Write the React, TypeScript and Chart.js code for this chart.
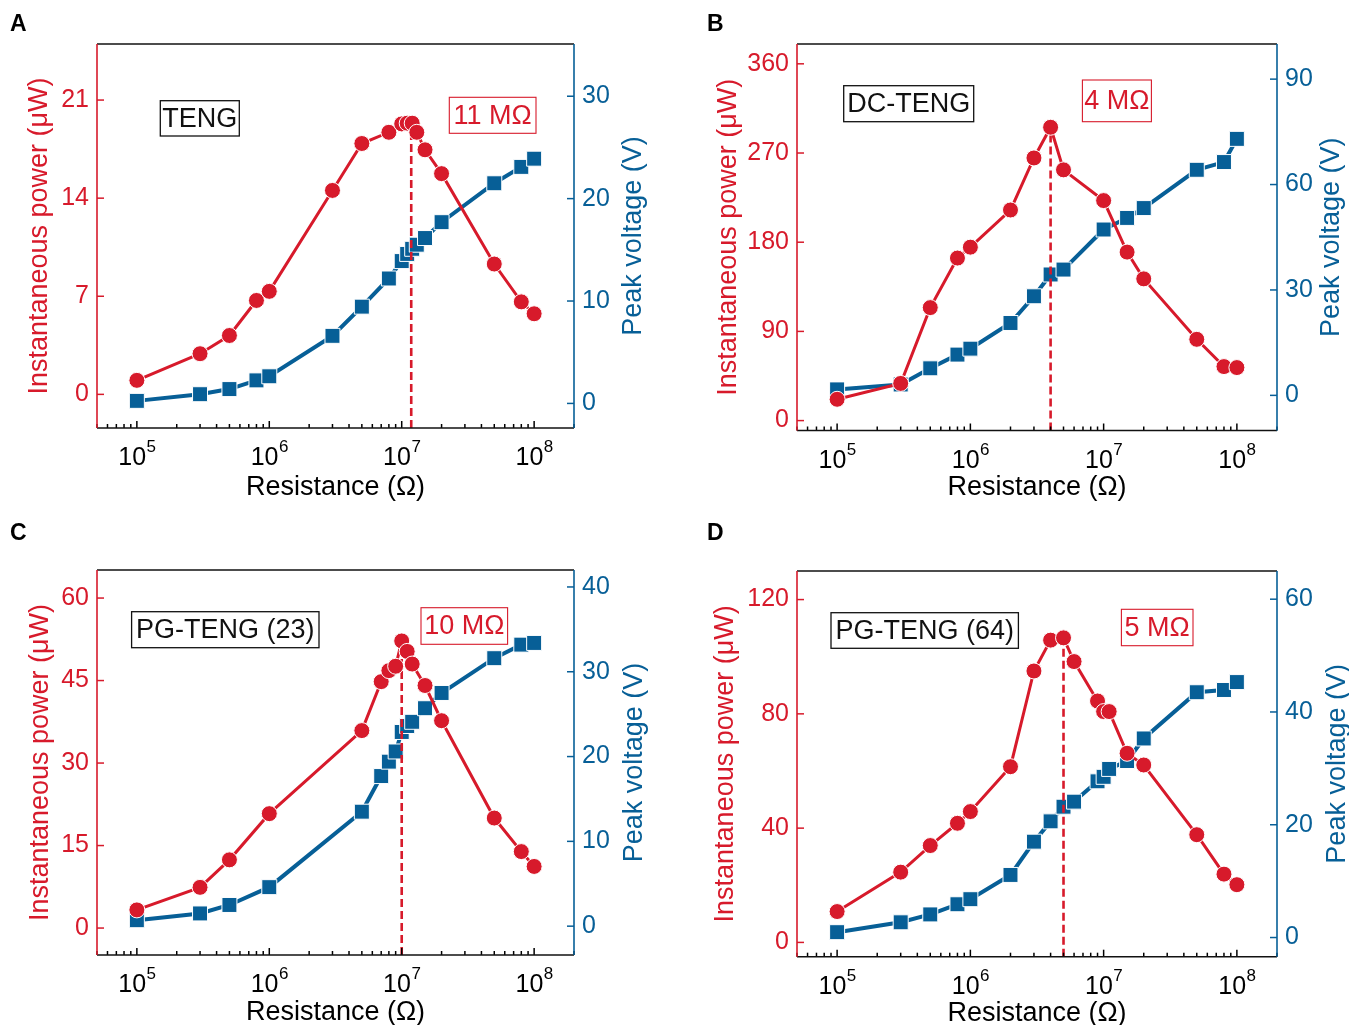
import React, { useEffect, useRef } from 'react';
import { Chart, registerables } from 'chart.js';

Chart.register(...registerables);

const RED = '#d71a2b';
const BLUE = '#075f97';
const FONT = "'Liberation Sans', Arial, Helvetica, sans-serif";

// ---------------- data ----------------
const resistanceA = [1e5, 3e5, 5e5, 8e5, 1e6, 3e6, 5e6, 8e6, 1e7, 1.1e7, 1.2e7, 1.3e7, 1.5e7, 2e7, 5e7, 8e7, 1e8];
const powerA = [1.0, 2.9, 4.2, 6.7, 7.35, 14.55, 17.9, 18.7, 19.3, 19.35, 19.35, 18.7, 17.45, 15.75, 9.3, 6.6, 5.75];
const voltageA = [0.25, 0.9, 1.4, 2.25, 2.65, 6.6, 9.45, 12.2, 13.9, 14.6, 15.1, 15.5, 16.15, 17.7, 21.5, 23.1, 23.9];
const optimumA = 1.18e7;

const resistanceB = [1e5, 3e5, 5e5, 8e5, 1e6, 2e6, 3e6, 4e6, 5e6, 1e7, 1.5e7, 2e7, 5e7, 8e7, 1e8];
const powerB = [21.5, 37.5, 114, 164, 175, 212.5, 265, 296, 253, 222, 170, 143, 82, 54.5, 53.5];
const voltageB = [1.7, 3.1, 7.7, 11.6, 13.3, 20.6, 28.2, 34.4, 35.8, 47.2, 50.5, 53.3, 64.2, 66.4, 73];
const optimumB = 4e6;

const resistanceC = [1e5, 3e5, 5e5, 1e6, 5e6, 7e6, 8e6, 9e6, 1e7, 1.1e7, 1.2e7, 1.5e7, 2e7, 5e7, 8e7, 1e8];
const powerC = [3.3, 7.4, 12.4, 20.8, 35.9, 44.8, 46.8, 47.6, 52.2, 50.3, 48.0, 44.1, 37.7, 20.0, 13.9, 11.2];
const voltageC = [0.7, 1.5, 2.5, 4.6, 13.5, 17.7, 19.4, 20.6, 22.9, 23.6, 24.1, 25.7, 27.5, 31.6, 33.2, 33.4];
const optimumC = 1e7;

const resistanceD = [1e5, 3e5, 5e5, 8e5, 1e6, 2e6, 3e6, 4e6, 5e6, 6e6, 9e6, 1e7, 1.1e7, 1.5e7, 2e7, 5e7, 8e7, 1e8];
const powerD = [10.8, 24.6, 33.9, 41.7, 45.8, 61.5, 95.0, 105.8, 106.6, 98.3, 84.5, 80.8, 80.8, 66.2, 62.1, 37.7, 23.9, 20.2];
const voltageD = [0.95, 2.7, 4.1, 5.9, 6.8, 11.1, 17.0, 20.6, 23.2, 24.1, 27.7, 28.5, 29.9, 31.3, 35.3, 43.5, 43.9, 45.3];
const optimumD = 5e6;

// ---------------- axes / ticks / labels ----------------
const xMin = 5e4;
const xMax = 2e8;
const xMajorTicks = [1e5, 1e6, 1e7, 1e8];
const xTickBase = '10';
const xTickExponents = ['5', '6', '7', '8'];

const leftTicksA = [0, 7, 14, 21];
const rightTicksA = [0, 10, 20, 30];
const leftTicksB = [0, 90, 180, 270, 360];
const rightTicksB = [0, 30, 60, 90];
const leftTicksC = [0, 15, 30, 45, 60];
const rightTicksC = [0, 10, 20, 30, 40];
const leftTicksD = [0, 40, 80, 120];
const rightTicksD = [0, 20, 40, 60];

const leftRangeA = [-2.4, 25];
const rightRangeA = [-2.4, 35.1];
const leftRangeB = [-10, 380];
const rightRangeB = [-10, 100];
const leftRangeC = [-4.9, 65.1];
const rightRangeC = [-3.4, 42];
const leftRangeD = [-5, 130];
const rightRangeD = [-3.4, 65];

const sampleLabels = ['TENG', 'DC-TENG', 'PG-TENG (23)', 'PG-TENG (64)'];
const optimumLabels = ['11 MΩ', '4 MΩ', '10 MΩ', '5 MΩ'];
const panelLetters = ['A', 'B', 'C', 'D'];
const xTitle = 'Resistance (Ω)';
const yLeftTitle = 'Instantaneous power (μW)';
const yRightTitle = 'Peak voltage (V)';

// minor tick positions of the log axis (1..9 x 10^n inside the range)
const xAllTicks: number[] = [];
for (let e = 4; e <= 8; e++) {
  for (let m = 1; m <= 9; m++) {
    const v = m * Math.pow(10, e);
    if (v >= xMin && v <= xMax) xAllTicks.push(v);
  }
}

type Box = [number, number, number, number];
interface PanelCfg {
  idx: number;
  res: number[];
  power: number[];
  voltage: number[];
  optimum: number;
  leftTicks: number[];
  rightTicks: number[];
  leftRange: number[];
  rightRange: number[];
  left: number; top: number; width: number; height: number;
  yLW: number; yRW: number; padTop: number; xH: number;
  leftTitleOff: number; rightTitleOff: number; bottomTitleOff: number;
  letterX: number; letterY: number;
  sampleBox: Box; optBox: Box;
}

const panels: PanelCfg[] = [
  {
    idx: 0, res: resistanceA, power: powerA, voltage: voltageA, optimum: optimumA,
    leftTicks: leftTicksA, rightTicks: rightTicksA, leftRange: leftRangeA, rightRange: rightRangeA,
    left: 0, top: 0, width: 674, height: 512, yLW: 97, yRW: 100, padTop: 44, xH: 84,
    leftTitleOff: 50, rightTitleOff: 67, bottomTitleOff: 67, letterX: 10, letterY: 31,
    sampleBox: [63.3, 56.7, 79, 35.3], optBox: [352.3, 53.3, 86.7, 36],
  },
  {
    idx: 1, res: resistanceB, power: powerB, voltage: voltageB, optimum: optimumB,
    leftTicks: leftTicksB, rightTicks: rightTicksB, leftRange: leftRangeB, rightRange: rightRangeB,
    left: 674, top: 0, width: 675, height: 512, yLW: 123, yRW: 72, padTop: 44, xH: 81.5,
    leftTitleOff: 61, rightTitleOff: 62, bottomTitleOff: 64.5, letterX: 33, letterY: 31,
    sampleBox: [46.7, 41.7, 130, 36], optBox: [285.4, 36, 69, 41.7],
  },
  {
    idx: 2, res: resistanceC, power: powerC, voltage: voltageC, optimum: optimumC,
    leftTicks: leftTicksC, rightTicks: rightTicksC, leftRange: leftRangeC, rightRange: rightRangeC,
    left: 0, top: 512, width: 674, height: 513, yLW: 97, yRW: 100, padTop: 58, xH: 70,
    leftTitleOff: 49, rightTitleOff: 68, bottomTitleOff: 65, letterX: 10, letterY: 28,
    sampleBox: [34.6, 41.7, 187.4, 36], optBox: [324, 37.7, 86.6, 36.6],
  },
  {
    idx: 3, res: resistanceD, power: powerD, voltage: voltageD, optimum: optimumD,
    leftTicks: leftTicksD, rightTicks: rightTicksD, leftRange: leftRangeD, rightRange: rightRangeD,
    left: 674, top: 512, width: 675, height: 513, yLW: 123, yRW: 72, padTop: 59, xH: 68.3,
    leftTitleOff: 64, rightTitleOff: 68, bottomTitleOff: 64, letterX: 33, letterY: 28,
    sampleBox: [34, 41.7, 187.4, 35.6], optBox: [324.4, 38.3, 71.6, 36.4],
  },
];

function line(ctx: CanvasRenderingContext2D, x1: number, y1: number, x2: number, y2: number) {
  ctx.beginPath();
  ctx.moveTo(x1, y1);
  ctx.lineTo(x2, y2);
  ctx.stroke();
}

function Panel({ cfg }: { cfg: PanelCfg }) {
  const ref = useRef<HTMLCanvasElement>(null);

  useEffect(() => {
    const canvas = ref.current;
    if (!canvas) return;
    const c = cfg;

    const decor = {
      id: 'decor' + c.idx,
      afterDraw(chart: any) {
        const ctx: CanvasRenderingContext2D = chart.ctx;
        const a = chart.chartArea;
        const x = chart.scales.x;
        const yL = chart.scales.yL;
        const yR = chart.scales.yR;
        ctx.save();

        // tick marks (inward)
        ctx.lineWidth = 1.5;
        ctx.strokeStyle = '#000';
        for (const v of xAllTicks) {
          const px = x.getPixelForValue(v);
          const major = xMajorTicks.indexOf(v) >= 0;
          line(ctx, px, a.bottom, px, a.bottom - (major ? 7 : 4));
        }
        ctx.strokeStyle = RED;
        for (const v of c.leftTicks) {
          const py = yL.getPixelForValue(v);
          line(ctx, a.left, py, a.left + 7, py);
        }
        ctx.strokeStyle = BLUE;
        for (const v of c.rightTicks) {
          const py = yR.getPixelForValue(v);
          line(ctx, a.right - 7, py, a.right, py);
        }

        // frame
        ctx.lineWidth = 1.6;
        ctx.strokeStyle = '#111';
        line(ctx, a.left, a.bottom, a.right, a.bottom);
        line(ctx, a.left, a.top, a.right, a.top);
        ctx.strokeStyle = RED;
        line(ctx, a.left, a.top, a.left, a.bottom);
        ctx.strokeStyle = BLUE;
        line(ctx, a.right, a.top, a.right, a.bottom);

        // x tick labels 10^n
        ctx.fillStyle = '#000';
        ctx.textBaseline = 'alphabetic';
        ctx.textAlign = 'left';
        xMajorTicks.forEach((v, i) => {
          const px = x.getPixelForValue(v);
          ctx.font = `25px ${FONT}`;
          const w1 = ctx.measureText(xTickBase).width;
          ctx.font = `17px ${FONT}`;
          const w2 = ctx.measureText(xTickExponents[i]).width;
          const start = px - (w1 + w2) / 2;
          ctx.font = `25px ${FONT}`;
          ctx.fillText(xTickBase, start, a.bottom + 37);
          ctx.font = `17px ${FONT}`;
          ctx.fillText(xTickExponents[i], start + w1 + 0.5, a.bottom + 24);
        });

        // axis titles
        const midY = (a.top + a.bottom) / 2;
        ctx.font = `27px ${FONT}`;
        ctx.textAlign = 'center';
        ctx.textBaseline = 'alphabetic';
        ctx.fillStyle = '#000';
        ctx.fillText(xTitle, (a.left + a.right) / 2, a.bottom + c.bottomTitleOff);

        ctx.save();
        ctx.translate(a.left - c.leftTitleOff, midY);
        ctx.rotate(-Math.PI / 2);
        ctx.fillStyle = RED;
        ctx.fillText(yLeftTitle, 0, 0);
        ctx.restore();

        ctx.save();
        ctx.translate(a.right + c.rightTitleOff, midY);
        ctx.rotate(-Math.PI / 2);
        ctx.fillStyle = BLUE;
        ctx.fillText(yRightTitle, 0, 0);
        ctx.restore();

        // annotation boxes
        const drawBox = (b: Box, text: string, color: string, lw: number) => {
          const bx = a.left + b[0];
          const by = a.top + b[1];
          ctx.lineWidth = lw;
          ctx.strokeStyle = color;
          ctx.strokeRect(bx, by, b[2], b[3]);
          ctx.fillStyle = color;
          ctx.font = `27px ${FONT}`;
          ctx.textAlign = 'center';
          ctx.textBaseline = 'middle';
          ctx.fillText(text, bx + b[2] / 2, by + b[3] / 2 + 1);
        };
        drawBox(c.sampleBox, sampleLabels[c.idx], '#111', 1.3);
        drawBox(c.optBox, optimumLabels[c.idx], RED, 1.1);

        // panel letter
        ctx.font = `bold 23px ${FONT}`;
        ctx.textAlign = 'left';
        ctx.textBaseline = 'alphabetic';
        ctx.fillStyle = '#000';
        ctx.fillText(panelLetters[c.idx], c.letterX, c.letterY);

        ctx.restore();
      },
    };

    const chart = new Chart(canvas, {
      type: 'line',
      data: {
        datasets: [
          {
            label: 'power',
            data: c.res.map((r, i) => ({ x: r, y: c.power[i] })),
            yAxisID: 'yL',
            borderColor: RED,
            backgroundColor: RED,
            borderWidth: 3,
            pointStyle: 'circle',
            pointRadius: 8,
            pointBackgroundColor: RED,
            pointBorderColor: '#ffffff',
            pointBorderWidth: 1,
            tension: 0,
            order: 0,
          },
          {
            label: 'optimum',
            data: [
              { x: c.optimum, y: c.leftRange[0] },
              { x: c.optimum, y: Math.max(...c.power) },
            ],
            yAxisID: 'yL',
            borderColor: RED,
            borderWidth: 2.6,
            borderDash: [8, 4],
            pointRadius: 0,
            order: 1,
          },
          {
            label: 'voltage',
            data: c.res.map((r, i) => ({ x: r, y: c.voltage[i] })),
            yAxisID: 'yR',
            borderColor: BLUE,
            backgroundColor: BLUE,
            borderWidth: 4,
            pointStyle: 'rect',
            pointRadius: 10.6,
            pointBackgroundColor: BLUE,
            pointBorderColor: '#ffffff',
            pointBorderWidth: 1,
            tension: 0,
            order: 2,
          },
        ],
      },
      options: {
        animation: false,
        responsive: false,
        events: [],
        layout: { padding: { top: c.padTop, left: 0, right: 0, bottom: 0 } },
        plugins: { legend: { display: false }, tooltip: { enabled: false } },
        scales: {
          x: {
            type: 'logarithmic',
            position: 'bottom',
            min: xMin,
            max: xMax,
            grid: { display: false, drawTicks: false },
            border: { display: false },
            ticks: { display: false },
            afterFit: (s: any) => { s.height = c.xH; },
          },
          yL: {
            type: 'linear',
            position: 'left',
            min: c.leftRange[0],
            max: c.leftRange[1],
            grid: { display: false, drawTicks: false },
            border: { display: false },
            ticks: { color: RED, font: { family: FONT, size: 25 }, padding: 8 },
            afterBuildTicks: (s: any) => { s.ticks = c.leftTicks.map((v) => ({ value: v })); },
            afterFit: (s: any) => { s.width = c.yLW; },
          },
          yR: {
            type: 'linear',
            position: 'right',
            min: c.rightRange[0],
            max: c.rightRange[1],
            grid: { display: false, drawTicks: false },
            border: { display: false },
            ticks: { color: BLUE, font: { family: FONT, size: 25 }, padding: 8 },
            afterBuildTicks: (s: any) => { s.ticks = c.rightTicks.map((v) => ({ value: v })); },
            afterFit: (s: any) => { s.width = c.yRW; },
          },
        },
      } as any,
      plugins: [decor],
    });
    return () => chart.destroy();
  }, [cfg]);

  return (
    <canvas
      ref={ref}
      width={cfg.width}
      height={cfg.height}
      style={{ position: 'absolute', left: cfg.left, top: cfg.top, width: cfg.width, height: cfg.height }}
    />
  );
}

export default function App() {
  return (
    <div
      style={{
        position: 'absolute',
        left: 0,
        top: 0,
        width: 1349,
        height: 1025,
        background: '#fff',
        overflow: 'hidden',
      }}
    >
      {panels.map((p) => (
        <Panel key={p.idx} cfg={p} />
      ))}
    </div>
  );
}
